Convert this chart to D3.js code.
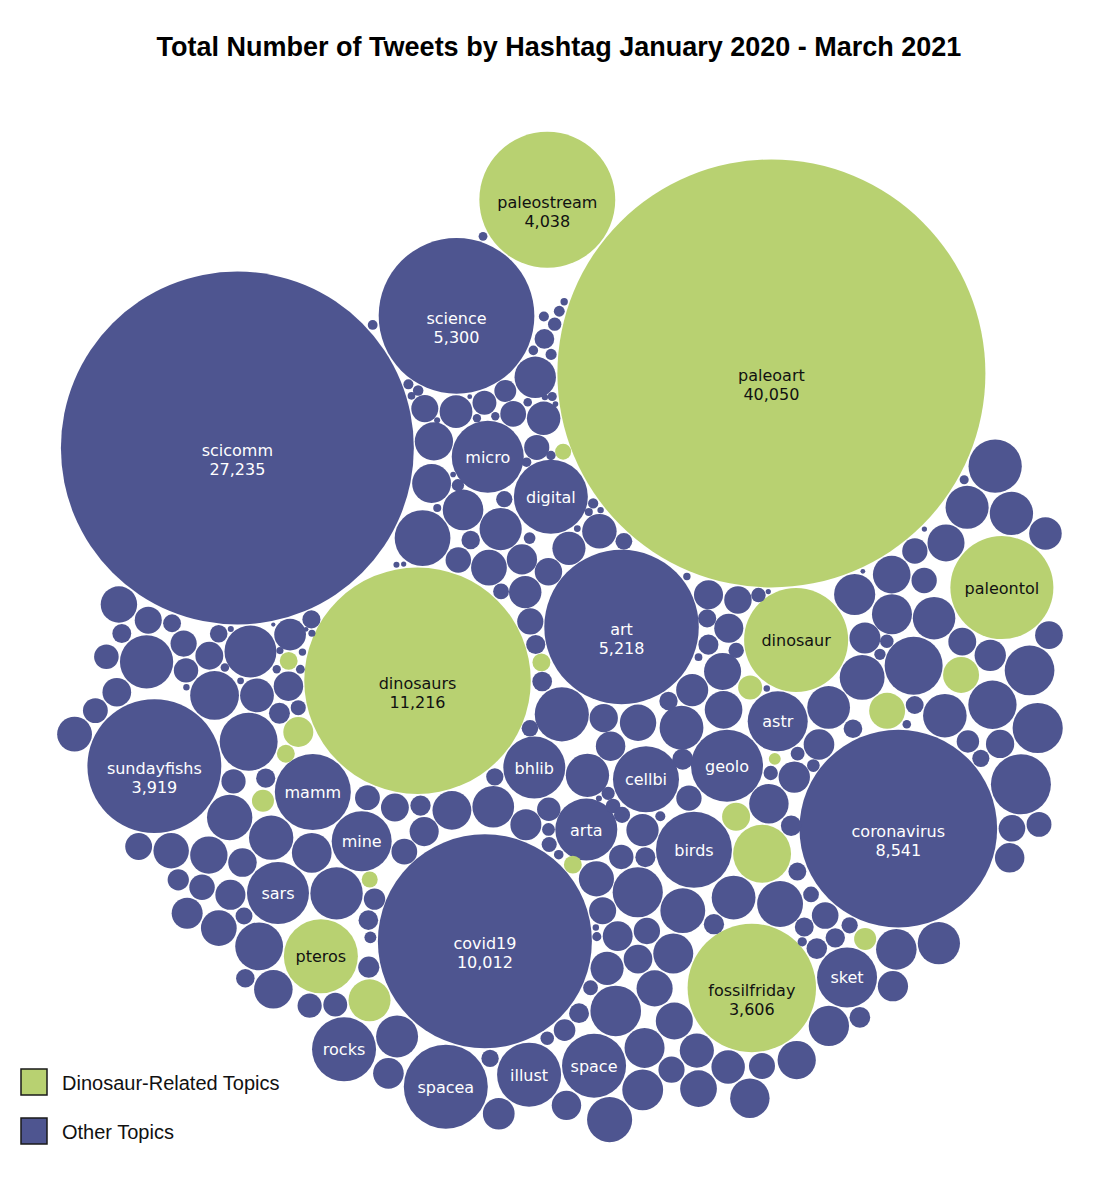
<!DOCTYPE html>
<html>
<head>
<meta charset="utf-8">
<script src="https://cdn.jsdelivr.net/npm/d3@7"></script>
<style>
  body { margin: 0; background: #fff; }
</style>
</head>
<body>
<div id="wrapper"></div>
<script>
// hashtags that have a fixed place in the dataset order ("" = bubble too small to be named)
const tags = ["arta", "", "art", "birds", "bhlib", "astr", "covid19", "cellbi", "dinosaurs", "", "",
  "coronavirus", "dinosaur", "fossilfriday", "", "digital", "geolo", "mamm", "illust", "mine", "",
  "micro", "", "", "", "", "paleoart", "", "sundayfishs", "", "", "sket", "space", "", "sars", "",
  "paleostream", "", "pteros", "science", "rocks", "paleontol", "", "scicomm", "spacea"]
const tagCounts = [840, 70, 5218, 1263, 840, 787, 10012, 953, 11216, 171, 70,
  8541, 2366, 3606, 197, 1198, 1134, 1263, 896, 787, 126,
  1134, 70, 56, 386, 735, 40050, 31, 3919, 106, 283, 787, 896, 283, 840, 70,
  4038, 106, 1198, 5300, 896, 2320, 56, 27235, 1543]
const tagTopics = ["o", "d", "o", "o", "o", "o", "o", "o", "d", "d", "d",
  "o", "d", "d", "d", "o", "o", "o", "o", "o", "d",
  "o", "d", "d", "d", "d", "d", "d", "o", "d", "d", "o", "o", "d", "o", "d",
  "d", "d", "d", "o", "o", "d", "d", "o", "o"]
// position of each of the above in the dataset order
const tagOrder = [4, 3, 44, 27, 24, 18, 35, 34, 54, 45, 51,
  47, 86, 84, 72, 99, 63, 25, 116, 77, 107,
  91, 134, 133, 137, 155, 264, 147, 119, 153, 165, 173, 184, 178, 145, 169,
  256, 152, 158, 240, 192, 204, 200, 232, 260]

// the many small unnamed "other" hashtags, tweet counts, filling the rest of the order
const otherCounts = [
  420, 160, 45, 36, 310, 210, 75, 8, 640, 140, 60, 350, 180, 30, 95,
  380, 20, 150, 70, 290, 230, 74, 85, 440, 170, 40, 130, 330, 55, 80,
  735, 190, 65, 360, 9, 145, 80, 270, 200, 35, 410, 120, 54, 90, 240,
  300, 50, 175, 18, 390, 135, 72, 550, 220, 42, 84, 165, 340, 88, 47,
  280, 155, 62, 460, 96, 205, 98, 320, 128, 38, 590, 16, 185, 78, 250,
  370, 48, 142, 58, 430, 225, 68, 300, 31, 160, 92, 520, 195, 33, 110,
  345, 58, 215, 72, 400, 138, 82, 260, 22, 170, 46, 600, 125, 70, 190,
  310, 9, 235, 64, 450, 150, 28, 105, 355, 180, 52, 50, 680, 140, 85,
  290, 210, 40, 15, 375, 130, 76, 245, 19, 620, 165, 57, 330, 100, 39,
  420, 185, 66, 145, 265, 12, 228, 5, 500, 27, 90, 8, 395, 14, 155,
  305, 10, 440, 17, 735, 20, 200, 135, 6, 350, 24, 170, 9, 240, 15,
  385, 7, 190, 275, 14, 560, 11, 215, 325, 18, 148, 160, 6, 102, 22,
  415, 178, 20, 295, 6, 540, 205, 23, 360, 132, 13, 152, 88, 63, 9,
  340, 11, 405, 220, 787, 142, 16, 285, 9, 185, 128, 19, 94, 70, 5,
  365, 13, 510, 198, 255, 4, 232, 21, 390, 158, 86, 12, 140, 75, 7,
  320, 8, 620, 445, 15, 175, 210, 26, 300, 10, 168, 125, 17, 92, 78,
  18, 350, 5, 550, 280, 22, 245, 16, 410, 190, 8, 135, 99, 12, 150
]

const legendLabels = ["Dinosaur-Related Topics", "Other Topics"]
const topicColor = { d: "#b8d171", o: "#4e5590" }

function drawBubbles() {
  const width = 1118
  const height = 1200
  const rotate = 0      // degrees, turns the whole cluster
  const gap = 0.8

  const rScale = d3.scaleSqrt().domain([0, 40050]).range([0, 214])

  // dataset order: fixed hashtags at their place, the rest fill in
  const total = tags.length + otherCounts.length
  const nodes = new Array(total)
  tags.forEach((t, i) => {
    nodes[tagOrder[i]] = { tag: t, count: tagCounts[i], topic: tagTopics[i] }
  })
  let j = 0
  for (let i = 0; i < total; i++) {
    if (!nodes[i]) nodes[i] = { tag: "", count: otherCounts[j++], topic: "o" }
  }
  nodes.forEach(d => d.r = rScale(d.count))

  // grow the bubbles slowly from the simulation's start spiral
  let grow = 0
  const collide = d3.forceCollide().radius(d => (d.r + gap) * grow).strength(0.9).iterations(2)
  const sim = d3.forceSimulation(nodes)
    .force("x", d3.forceX(0).strength(0.04))
    .force("y", d3.forceY(0).strength(0.04))
    .force("collide", collide)
    .alpha(0.3)
    .alphaDecay(0)
    .stop()
  for (let s = 1; s <= 80; s++) {
    grow = s / 80
    collide.radius(d => (d.r + gap) * grow)
    for (let t = 0; t < 4; t++) sim.tick()
  }
  sim.alphaDecay(0.02)
  for (let t = 0; t < 250; t++) sim.tick()

  const a = rotate * Math.PI / 180
  nodes.forEach(d => {
    d.px = d.x * Math.cos(a) - d.y * Math.sin(a)
    d.py = d.x * Math.sin(a) + d.y * Math.cos(a)
  })
  const x0 = d3.min(nodes, d => d.px - d.r), x1 = d3.max(nodes, d => d.px + d.r)
  const y0 = d3.min(nodes, d => d.py - d.r), y1 = d3.max(nodes, d => d.py + d.r)
  const cx = 560 - (x0 + x1) / 2
  const cy = 637 - (y0 + y1) / 2

  const svg = d3.select("#wrapper")
    .append("svg")
    .attr("width", width)
    .attr("height", height)

  svg.append("text")
    .attr("x", width / 2)
    .attr("y", 56)
    .attr("text-anchor", "middle")
    .style("font-family", "'Liberation Sans', Arial, sans-serif")
    .style("font-weight", "bold")
    .style("font-size", "27px")
    .text("Total Number of Tweets by Hashtag January 2020 - March 2021")

  const bubbles = svg.append("g")
    .attr("transform", `translate(${cx}, ${cy})`)

  const bubble = bubbles.selectAll("g")
    .data(nodes)
    .enter()
    .append("g")
    .attr("transform", d => `translate(${d.px}, ${d.py})`)

  bubble.append("circle")
    .attr("r", d => d.r)
    .attr("fill", d => topicColor[d.topic])

  const fmt = d3.format(",")
  const labels = bubble.filter(d => d.tag !== "")
    .append("text")
    .attr("text-anchor", "middle")
    .style("font-family", "'DejaVu Sans', Verdana, sans-serif")
    .style("font-size", "16px")
    .attr("fill", d => d.topic === "d" ? "#111" : "#fff")

  labels.append("tspan")
    .attr("x", 0)
    .attr("y", d => d.count >= 3000 ? 8 : 6)
    .text(d => d.tag)
  labels.filter(d => d.count >= 3000)
    .append("tspan")
    .attr("x", 0)
    .attr("y", 27)
    .text(d => fmt(d.count))

  // legend
  const legend = svg.append("g")
    .attr("transform", "translate(21, 1069)")
  const item = legend.selectAll("g")
    .data(legendLabels)
    .enter()
    .append("g")
    .attr("transform", (d, i) => `translate(0, ${i * 49})`)
  item.append("rect")
    .attr("width", 26)
    .attr("height", 26)
    .attr("fill", (d, i) => i === 0 ? topicColor.d : topicColor.o)
    .attr("stroke", "#1a1a1a")
    .attr("stroke-width", 1.5)
  item.append("text")
    .attr("x", 41)
    .attr("y", 21)
    .style("font-family", "'Liberation Sans', Arial, sans-serif")
    .style("font-size", "20px")
    .attr("fill", "#111")
    .text(d => d)
}

drawBubbles()
</script>
</body>
</html>
